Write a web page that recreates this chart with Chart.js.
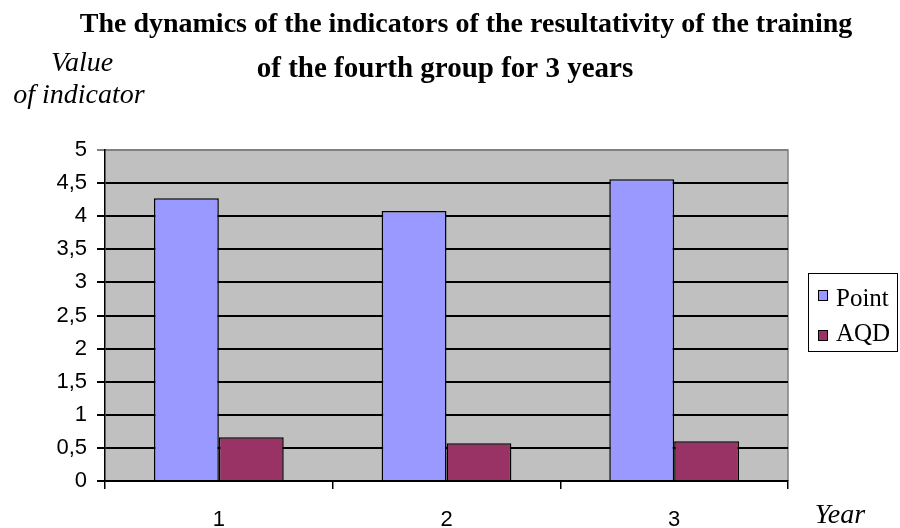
<!DOCTYPE html>
<html>
<head>
<meta charset="utf-8">
<script src="https://cdn.jsdelivr.net/npm/chart.js@4/dist/chart.umd.min.js"></script>
<style>
  html, body { margin: 0; padding: 0; background: #fff; }
  #wrap { width: 900px; height: 528px; position: relative; }
</style>
</head>
<body>
<div id="wrap"><canvas id="graph"></canvas></div>
<script>
// years and the two indicators for each year
var years = ['1', '2', '3'];
var pointValues = [4.27, 4.08, 4.56];
var aqdValues = [0.66, 0.57, 0.60];
var seriesNames = ['Point', 'AQD'];
var seriesColors = ['#9999ff', '#993366'];

var titleLines = ['The dynamics of the indicators of the resultativity of the training',
                  'of the fourth group for 3 years'];

// grey plot background with thin grey frame on top/right
const plotBg = {
  id: 'plotBg',
  beforeDraw(chart) {
    const a = chart.chartArea, ctx = chart.ctx;
    ctx.save();
    ctx.fillStyle = '#c0c0c0';
    ctx.fillRect(a.left, a.top, a.right - a.left, a.bottom - a.top);
    ctx.strokeStyle = '#808080';
    ctx.lineWidth = 1.5;
    ctx.beginPath();
    ctx.moveTo(a.left, a.top);
    ctx.lineTo(a.right, a.top);
    ctx.lineTo(a.right, a.bottom);
    ctx.stroke();
    ctx.restore();
  }
};

// titles, axis captions and the boxed legend
const extras = {
  id: 'extras',
  afterDraw(chart) {
    const ctx = chart.ctx;
    ctx.save();
    ctx.fillStyle = '#000';
    ctx.textAlign = 'center';
    ctx.textBaseline = 'alphabetic';
    ctx.font = 'bold 28px "Liberation Serif"';
    ctx.fillText(titleLines[0], 466, 32);
    ctx.font = 'bold 29px "Liberation Serif"';
    ctx.fillText(titleLines[1], 445, 77);

    ctx.font = 'italic 28px "Liberation Serif"';
    ctx.fillText('Value', 82, 71);
    ctx.fillText('of indicator', 79, 103);
    ctx.fillText('Year', 840, 523);

    // legend
    ctx.fillStyle = '#fff';
    ctx.fillRect(808, 273, 90, 79);
    ctx.strokeStyle = '#000';
    ctx.lineWidth = 1;
    ctx.strokeRect(808.5, 273.5, 89, 78);
    ctx.textAlign = 'left';
    ctx.font = '25px "Liberation Serif"';
    chart.data.datasets.forEach(function (ds, i) {
      const y = i === 0 ? 306 : 341;
      const sy = i === 0 ? 290 : 330;
      ctx.fillStyle = ds.backgroundColor;
      ctx.fillRect(818, sy, 10, 11);
      ctx.strokeStyle = '#000';
      ctx.strokeRect(818.5, sy + 0.5, 9, 10);
      ctx.fillStyle = '#000';
      ctx.fillText(ds.label, 836, y);
    });
    ctx.restore();
  }
};

new Chart(document.getElementById('graph'), {
  type: 'bar',
  data: {
    labels: years,
    datasets: [
      { label: seriesNames[0], data: pointValues, backgroundColor: seriesColors[0],
        borderColor: '#000', borderWidth: 1.5 },
      { label: seriesNames[1], data: aqdValues, backgroundColor: seriesColors[1],
        borderColor: '#000', borderWidth: 1.5 }
    ]
  },
  options: {
    responsive: true,
    maintainAspectRatio: false,
    animation: false,
    layout: { padding: { top: 150, right: 112, left: 0, bottom: 0 } },
    datasets: { bar: { categoryPercentage: 0.57, barPercentage: 1 } },
    plugins: { legend: { display: false }, title: { display: false }, tooltip: { enabled: false } },
    scales: {
      x: {
        afterFit(s) { s.height = 47; },
        grid: { offset: true, drawOnChartArea: false, color: '#000', tickLength: 8, lineWidth: 1.5 },
        border: { color: '#000', width: 1.5 },
        ticks: { color: '#000', font: { family: 'Arial, "Liberation Sans"', size: 22 }, padding: 18 }
      },
      y: {
        min: 0, max: 5,
        afterFit(s) { s.width = 105; },
        grid: {
          color: ctx => ctx.tick && ctx.tick.value === 5 ? '#808080' : '#000',
          lineWidth: 2, tickLength: 8
        },
        border: { color: '#000', width: 1.5 },
        ticks: {
          stepSize: 0.5, color: '#000', padding: 10,
          font: { family: 'Arial, "Liberation Sans"', size: 22 },
          callback: v => String(v).replace('.', ',')
        }
      }
    }
  },
  plugins: [plotBg, extras]
});
</script>
</body>
</html>
